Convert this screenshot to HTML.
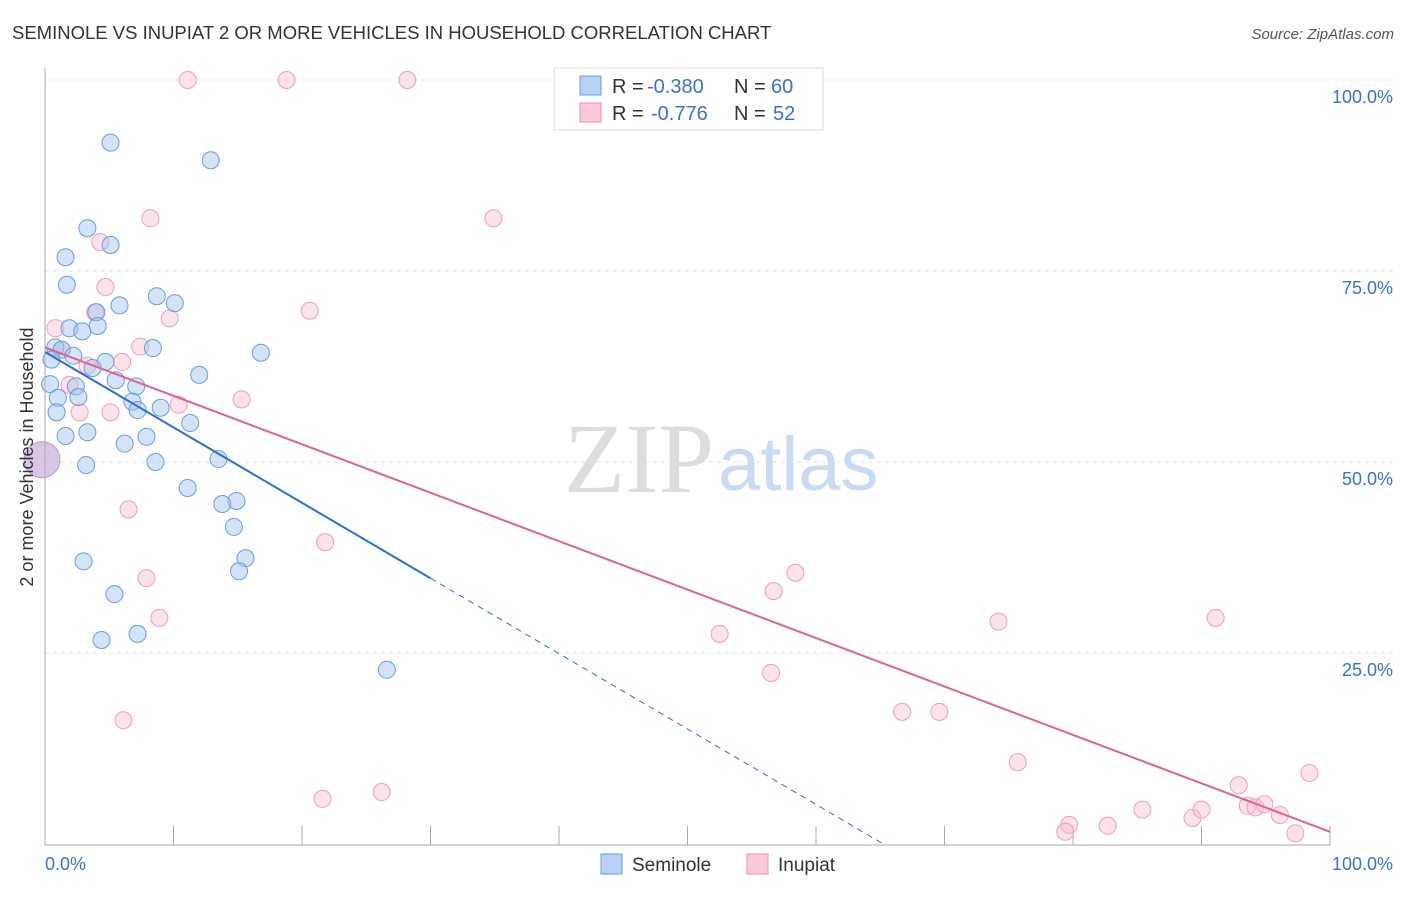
<!DOCTYPE html>
<html><head><meta charset="utf-8">
<style>
html,body{margin:0;padding:0;background:#fff;}
body{width:1406px;height:892px;overflow:hidden;font-family:"Liberation Sans",sans-serif;}
</style></head>
<body>
<svg id="chart" width="1406" height="892" xmlns="http://www.w3.org/2000/svg" style="font-family:'Liberation Sans',sans-serif">
<text x="12" y="39" font-size="18.5" fill="#333">SEMINOLE VS INUPIAT 2 OR MORE VEHICLES IN HOUSEHOLD CORRELATION CHART</text>
<text x="1394" y="39" font-size="15" fill="#555" font-style="italic" text-anchor="end">Source: ZipAtlas.com</text>
<g id="grid"></g>
<text x="714" y="492" font-size="100" text-anchor="end" fill="#ddd" font-family="Liberation Serif, serif">ZIP</text>
<text x="718" y="490" font-size="76" fill="#c9daf2">atlas</text>
<g id="marks"></g>
<text transform="translate(33,457) rotate(-90)" font-size="18" fill="#333" text-anchor="middle">2 or more Vehicles in Household</text>
<g>
<rect x="554" y="68" width="269" height="62" fill="#fff" stroke="#ddd"/>
<rect x="580" y="76" width="21" height="19" fill="#b7d1f5" stroke="#6a9de0"/>
<text x="612" y="93" font-size="20" fill="#333">R = </text><text x="647" y="93" font-size="20" fill="#3a72d0">-0.380</text>
<text x="734" y="93" font-size="20" fill="#333">N = </text><text x="771" y="93" font-size="20" fill="#3a72d0">60</text>
<rect x="580" y="103" width="21" height="19" fill="#fbc9d8" stroke="#ec8fae"/>
<text x="612" y="120" font-size="20" fill="#333">R = </text><text x="651" y="120" font-size="20" fill="#3a72d0">-0.776</text>
<text x="734" y="120" font-size="20" fill="#333">N = </text><text x="773" y="120" font-size="20" fill="#3a72d0">52</text>
</g>
<g>
<rect x="601" y="854" width="21" height="20" fill="#b7d1f5" stroke="#6a9de0"/>
<text x="632" y="871" font-size="19" fill="#333">Seminole</text>
<rect x="747" y="854" width="21" height="20" fill="#fbc9d8" stroke="#ec8fae"/>
<text x="778" y="871" font-size="19" fill="#333">Inupiat</text>
</g>
</svg>
<script>
const seminoleX=[5.1,12.9,3.3,5.1,1.6,1.7,8.7,10.1,5.8,4.0,1.9,4.1,2.9,0.8,1.3,8.4,16.8,2.2,4.7,0.5,3.7,12.0,5.5,0.4,7.1,2.4,1.0,2.6,6.8,9.0,7.2,0.9,11.3,1.6,3.3,7.9,6.2,13.5,3.2,8.6,11.1,14.9,13.8,14.7,3.0,15.6,15.1,5.4,7.2,4.4,26.6];
const seminoleY=[91.8,89.5,80.6,78.4,76.8,73.2,71.7,70.8,70.5,69.6,67.5,67.8,67.1,65.0,64.7,64.9,64.3,63.9,63.1,63.4,62.3,61.4,60.7,60.2,59.9,59.9,58.4,58.5,57.9,57.1,56.8,56.5,55.1,53.4,53.9,53.3,52.4,50.4,49.6,50.0,46.6,44.9,44.5,41.5,37.0,37.4,35.7,32.7,27.5,26.7,22.8];
const inupiatX=[11.1,18.8,28.2,8.2,34.9,4.3,4.7,3.9,20.6,0.8,9.7,7.4,1.3,3.3,6.0,1.9,10.4,15.3,2.7,5.1,6.5,21.8,7.9,8.9,6.1,58.4,56.7,52.5,74.2,91.1,56.5,66.7,69.6,75.7,21.6,26.2,79.7,79.4,82.7,85.4,89.3,90.0,93.6,94.2,94.9,92.9,96.1,98.4,97.3];
const inupiatY=[100,100,100,81.9,81.9,78.8,72.9,69.6,69.8,67.5,68.8,65.1,64.7,62.6,63.1,60.1,57.5,58.2,56.5,56.5,43.8,39.5,34.8,29.6,16.2,35.5,33.1,27.5,29.1,29.6,22.4,17.3,17.3,10.7,5.9,6.8,2.5,1.6,2.4,4.5,3.4,4.5,5.0,4.8,5.2,7.7,3.8,9.3,1.4];
const seminoleTrend=[64.4,-0.987];
const inupiatTrend=[65.0,-0.634];
const yTicks=[25,50,75,100];
const yTickLabels=["25.0%","50.0%","75.0%","100.0%"];
const xTicks=[0,10,20,30,40,50,60,70,80,90,100];

const NS="http://www.w3.org/2000/svg";
const X=v=>45+v*12.85, Y=v=>844-v*7.64;
function mk(tag,attrs,parent){const e=document.createElementNS(NS,tag);for(const k in attrs)e.setAttribute(k,attrs[k]);parent.appendChild(e);return e;}
const grid=document.getElementById('grid'), marks=document.getElementById('marks');
yTicks.forEach((t,i)=>{
  const l=mk('line',{x1:45,x2:1395,y1:Y(t),y2:Y(t),stroke:'#e3e3e3','stroke-dasharray':'4,4'},grid);
  
  
  const tx=mk('text',{x:1393,y:Y(t)+23,'font-size':18,fill:'#3a72d0','text-anchor':'end'},grid);
  tx.textContent=yTickLabels[i];
  
  
});
const ax=mk('line',{x1:45,x2:45,y1:68,y2:845,stroke:'#aaa'},grid);


const bx=mk('line',{x1:45,x2:1330,y1:845,y2:845,stroke:'#aaa'},grid);


xTicks.forEach(t=>{
  const l=mk('line',{x1:X(t),x2:X(t),y1:826,y2:845,stroke:'#aaa'},grid);
  
  
});
const xl0=mk('text',{x:45,y:870,'font-size':18,fill:'#3a72d0'},grid);xl0.textContent='0.0%';


const xl1=mk('text',{x:1393,y:870,'font-size':18,fill:'#3a72d0','text-anchor':'end'},grid);xl1.textContent='100.0%';



const big=mk('circle',{cx:X(0)-3,cy:Y(50.3),r:18,fill:'rgba(190,160,210,0.6)',stroke:'#b89bd0'},marks);


inupiatX.forEach((x,i)=>{
  const c=mk('circle',{cx:X(x),cy:Y(inupiatY[i]),r:8.5,fill:'rgba(248,190,208,0.45)',stroke:'#efa0bc','stroke-width':1},marks);
  
  
});
seminoleX.forEach((x,i)=>{
  const c=mk('circle',{cx:X(x),cy:Y(seminoleY[i]),r:8.5,fill:'rgba(160,195,240,0.45)',stroke:'#6a9de0','stroke-width':1},marks);
  
  
});
const f=(t,x)=>t[0]+t[1]*x;
const pl=mk('line',{x1:X(0),y1:Y(f(inupiatTrend,0)),x2:X(100),y2:Y(f(inupiatTrend,100)),stroke:'#e2628e','stroke-width':2},marks);


const bl=mk('line',{x1:X(0),y1:Y(f(seminoleTrend,0)),x2:X(30),y2:Y(f(seminoleTrend,30)),stroke:'#2a6fd6','stroke-width':2},marks);


const xEnd=-seminoleTrend[0]/seminoleTrend[1];
const bd=mk('line',{x1:X(30),y1:Y(f(seminoleTrend,30)),x2:X(xEnd),y2:Y(0),stroke:'#2a6fd6','stroke-width':1,'stroke-dasharray':'6,5'},marks);


</script>
</body></html>
